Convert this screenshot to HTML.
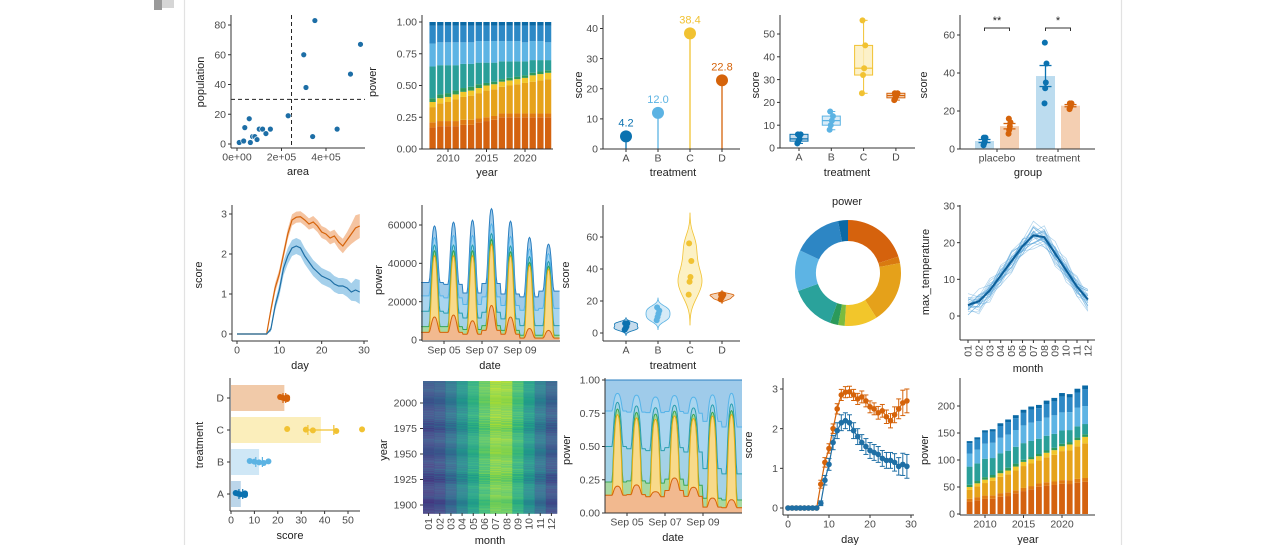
<!DOCTYPE html>
<html><head><meta charset="utf-8">
<style>
html,body{margin:0;padding:0;background:#fff;}
svg{display:block;font-family:"Liberation Sans",sans-serif;}
</style></head>
<body>
<svg id="chart" width="1280" height="545" viewBox="0 0 1280 545" xmlns="http://www.w3.org/2000/svg">
<rect x="154" y="0" width="8" height="10" fill="#9a9a9a"/>
<rect x="162" y="0" width="12" height="8" fill="#d6d6d6"/>
<rect x="184.5" y="-30" width="937" height="600" rx="14" fill="#fff" stroke="#e2e2e2" stroke-width="1.2"/>
</svg>
<script>
// ---------- data ----------
const scatterArea=[0.1,0.3,0.35,0.55,0.6,0.7,0.8,0.9,1.0,1.15,1.3,1.5,2.3,3.0,3.1,3.5,3.4,4.5,5.1,5.55];
const scatterPop=[1,2,11,17,1,5,5,3,10,10,7,10,19,60,38,83,5,10,47,67];
const years=[2008,2009,2010,2011,2012,2013,2014,2015,2016,2017,2018,2019,2020,2021,2022,2023];
const shareDarkOrange=[0.17,0.18,0.18,0.18,0.19,0.19,0.21,0.22,0.23,0.25,0.25,0.25,0.25,0.25,0.25,0.25];
const shareOrange=[0.04,0.04,0.04,0.04,0.04,0.04,0.03,0.03,0.03,0.03,0.03,0.03,0.03,0.03,0.03,0.03];
const shareGold=[0.12,0.14,0.15,0.17,0.18,0.19,0.20,0.21,0.21,0.21,0.22,0.23,0.24,0.25,0.26,0.27];
const shareYellow=[0.04,0.04,0.04,0.04,0.04,0.04,0.04,0.04,0.04,0.04,0.04,0.04,0.04,0.05,0.05,0.05];
const shareGreen=[0.03,0.03,0.03,0.03,0.03,0.03,0.03,0.02,0.02,0.02,0.02,0.02,0.02,0.02,0.02,0.02];
const shareTeal=[0.25,0.23,0.22,0.20,0.19,0.18,0.17,0.16,0.15,0.14,0.13,0.12,0.11,0.10,0.09,0.08];
const shareLightBlue=[0.18,0.18,0.18,0.18,0.17,0.17,0.17,0.17,0.17,0.16,0.16,0.16,0.15,0.15,0.15,0.14];
const shareBlue=[0.14,0.13,0.13,0.13,0.13,0.13,0.12,0.12,0.12,0.12,0.12,0.12,0.13,0.12,0.12,0.13];
const shareDarkBlue=[0.03,0.03,0.03,0.03,0.03,0.03,0.03,0.03,0.03,0.03,0.03,0.03,0.03,0.03,0.03,0.03];
const yearTotals=[135,142,155,157,168,175,183,193,199,202,210,215,224,222,232,238];
const treatments=['A','B','C','D'];
const scoresA=[2,3,4,6,6];
const scoresB=[8,10,12,14,16];
const scoresC=[24,32,35,45,56];
const scoresD=[21,22,23,24,24];
const groups=['placebo','treatment'];
const days=[0,1,2,3,4,5,6,7,8,9,10,11,12,13,14,15,16,17,18,19,20,21,22,23,24,25,26,27,28,29];
const scoreOrange=[0,0,0,0,0,0,0,0,0.6,1.15,1.5,2.0,2.5,2.85,2.92,2.93,2.85,2.75,2.8,2.7,2.55,2.5,2.4,2.45,2.3,2.2,2.35,2.5,2.65,2.7];
const seOrange=[0,0,0,0,0,0,0,0.02,0.1,0.12,0.12,0.12,0.13,0.14,0.14,0.14,0.14,0.14,0.15,0.15,0.15,0.15,0.16,0.16,0.17,0.18,0.2,0.25,0.32,0.3];
const scoreBlue=[0,0,0,0,0,0,0,0,0.12,0.7,1.1,1.65,1.95,2.15,2.2,2.15,1.95,1.8,1.65,1.55,1.45,1.4,1.35,1.25,1.2,1.2,1.15,1.05,1.1,1.05];
const seBlue=[0,0,0,0,0,0,0,0.02,0.06,0.12,0.15,0.18,0.2,0.2,0.2,0.2,0.2,0.2,0.2,0.2,0.2,0.2,0.2,0.2,0.2,0.2,0.22,0.22,0.28,0.3];
const solarProfile=[0,0,0,0,0,0,0.08,0.28,0.52,0.74,0.9,0.98,1,0.98,0.9,0.74,0.52,0.28,0.08,0,0,0,0,0];
const baseNight=[4000,4000,3000,5000,3000,1000,1000];
const baseDay=[12000,13000,10000,18000,12000,6000,5000];
const solarNight=[0,0,0,0,0,0,0];
const solarDay=[32000,31000,34000,32000,32000,33000,32000];
const greenNight=[3000,3000,2500,2500,2000,1500,1500];
const greenDay=[2500,2500,2500,2500,2000,1500,1500];
const tealNight=[8000,7000,6000,7000,6000,5000,5000];
const tealDay=[3000,3000,3000,3000,3000,3000,2500];
const lightBlueNight=[8000,8000,7000,8000,7000,8000,9000];
const lightBlueDay=[4000,5000,5000,5000,5000,4000,4000];
const blueNight=[7000,7000,6000,7000,6000,7000,9000];
const blueDay=[6000,7000,8000,8000,8000,6000,5000];
const donutValues=[20,2,19,10,2,2.5,14,12.5,15,3];
const monthLabels=['01','02','03','04','05','06','07','08','09','10','11','12'];
const monthMeans=[3,4,7,11,15,19,22,21.5,17,12.5,8,4.5];
const yearOffsets=[-0.8,-0.5,-0.9,-0.3,-0.6,-0.2,-0.7,-0.4,0.1,-0.3,0.0,-0.2,0.2,-0.1,0.3,0.0,-0.3,0.1,0.2,0.4,0.1,0.3,0.5,0.4,0.7,0.6,0.9];
const yearJitter=[0.6,-0.9,0.3,-0.4,1.0,-0.2,-0.6];

// ---------- helpers ----------
const NS='http://www.w3.org/2000/svg';
const svg=document.getElementById('chart');
function mk(parent,tag,attrs,name,inter){
  const el=document.createElementNS(NS,tag);
  for(const k in attrs) el.setAttribute(k,attrs[k]);
  
  
  parent.appendChild(el);return el;
}
function txt(parent,x,y,s,name,o){
  o=o||{};
  const a={x:x,y:y,'font-size':o.size||10.5,fill:o.fill||'#4a4a4a','text-anchor':o.anchor||'middle'};
  if(o.rot) a.transform='rotate('+o.rot+' '+x+' '+y+')';
  const t=mk(parent,'text',a,name);t.textContent=s;return t;
}
function lin(d0,d1,r0,r1){return v=>r0+(v-d0)/(d1-d0)*(r1-r0);}
function axisY(g,x,yTop,yBot,ticks,ys,fmt,pref){
  mk(g,'line',{x1:x,x2:x,y1:yTop,y2:yBot,stroke:'#333','stroke-width':1},pref+'-y-axis-line');
  ticks.forEach(t=>{const y=ys(t);
    mk(g,'line',{x1:x-3,x2:x,y1:y,y2:y,stroke:'#333','stroke-width':1},pref+'-y-tick');
    txt(g,x-5,y+3.7,fmt(t),pref+'-y-tick-label',{anchor:'end'});});
}
function axisX(g,y,xL,xR,ticks,xs,fmt,pref){
  mk(g,'line',{x1:xL,x2:xR,y1:y,y2:y,stroke:'#333','stroke-width':1},pref+'-x-axis-line');
  ticks.forEach(t=>{const x=xs(t);
    mk(g,'line',{x1:x,x2:x,y1:y,y2:y+3,stroke:'#333','stroke-width':1},pref+'-x-tick');
    txt(g,x,y+12.5,fmt(t),pref+'-x-tick-label');});
}
function title(g,x,y,s,name,rot){return txt(g,x,y,s,name,{size:11,fill:'#222',rot:rot});}
function panel(name){return mk(svg,'g',{},name);}
const C4=['#0b72b0','#5cb3e3','#f1c232','#d5630a'];
const C4L=['#bcd6ea','#cfe7f6','#fbeebb','#f1caa9'];
const groupData=[scoresA,scoresB,scoresC,scoresD];
const mean=a=>a.reduce((s,v)=>s+v,0)/a.length;
const sd=a=>{const m=mean(a);return Math.sqrt(a.reduce((s,v)=>s+(v-m)*(v-m),0)/(a.length-1));};
const se=a=>sd(a)/Math.sqrt(a.length);
function q(a,p){const s=[...a].sort((x,y)=>x-y);const h=(s.length-1)*p;const lo=Math.floor(h);return s[lo]+(h-lo)*((s[Math.min(lo+1,s.length-1)])-s[lo]);}
const jit=i=>((i*37)%7-3)*1.1;

// ---------- P1 scatter ----------
(function(){
const g=panel('scatter-panel');
const xs=lin(0,2,237,281.5), ys=lin(0,80,144,25);
mk(g,'line',{x1:xs(2.45),x2:xs(2.45),y1:15,y2:148,stroke:'#222','stroke-dasharray':'4,3'},'vline-dashed');
mk(g,'line',{x1:231,x2:365,y1:ys(30),y2:ys(30),stroke:'#222','stroke-dasharray':'4,3'},'hline-dashed');
axisY(g,231,15,148,[0,20,40,60,80],ys,String,'scatter');
axisX(g,148,231,365,[0,2,4],xs,t=>t+'e+0'+(t?'5':'0'),'scatter');
scatterArea.forEach((a,i)=>{mk(g,'circle',{cx:xs(a),cy:ys(scatterPop[i]),r:2.9,fill:'#1d6ea6',stroke:'#fff','stroke-width':0.6},'scatter-point');});
title(g,204,82,'population','y-axis-title',-90);
title(g,298,175,'area','x-axis-title');
})();

// ---------- stacked bars helper ----------
const shareSeries=[shareDarkOrange,shareOrange,shareGold,shareYellow,shareGreen,shareTeal,shareLightBlue,shareBlue,shareDarkBlue];
const stackColors=['#d4620f','#df7a12','#e6a21a','#f2c62b','#2f9a5a','#2a9f99','#5db4e4','#2d89c6','#0a69a5'];
function stackedBars(g,xs,ys,bw,totals,name){
  years.forEach((yr,i)=>{
    const sum=shareSeries.reduce((s,a)=>s+a[i],0);let acc=0;
    shareSeries.forEach((a,k)=>{
      const v0=acc/sum*totals[i];acc+=a[i];const v1=acc/sum*totals[i];
      mk(g,'rect',{x:xs(yr)-bw/2,y:ys(v1),width:bw,height:Math.max(0,ys(v0)-ys(v1)),fill:stackColors[k]},name+'-segment');
    });
  });
}
// ---------- P2 stacked pct ----------
(function(){
const g=panel('stacked-percent-panel');
const xs=lin(2010,2020,448,525), ys=lin(0,1,149,22);
stackedBars(g,xs,ys,6.3,years.map(()=>1),'pct-bar');
axisY(g,422,15,149,[0,0.25,0.5,0.75,1],ys,t=>t.toFixed(2),'pct');
axisX(g,149,422,553,[2010,2015,2020],xs,String,'pct');
title(g,376,82,'power','y-axis-title',-90);
title(g,487,176,'year','x-axis-title');
})();

// ---------- P3 lollipop ----------
(function(){
const g=panel('lollipop-panel');
const xs=i=>626+i*32, ys=lin(0,40,149,28.5);
groupData.forEach((d,i)=>{const m=mean(d);
  mk(g,'line',{x1:xs(i),x2:xs(i),y1:ys(0),y2:ys(m),stroke:C4[i],'stroke-width':1.3},'lollipop-stem');
  mk(g,'circle',{cx:xs(i),cy:ys(m),r:6,fill:C4[i]},'lollipop-dot');
  txt(g,xs(i),ys(m)-10,m.toFixed(1),'lollipop-value-label',{fill:C4[i],size:11});
});
axisY(g,603,15,149,[0,10,20,30,40],ys,String,'lollipop');
axisX(g,149,603,740,[0,1,2,3],xs,i=>treatments[i],'lollipop');
title(g,582,85,'score','y-axis-title',-90);
title(g,673,176,'treatment','x-axis-title');
})();

// ---------- P4 box ----------
(function(){
const g=panel('boxplot-panel');
const xs=i=>799+i*32.3, ys=lin(0,50,148,34);
groupData.forEach((d,i)=>{
  const q1=q(d,.25),q2=q(d,.5),q3=q(d,.75),x=xs(i);
  mk(g,'line',{x1:x,x2:x,y1:ys(Math.min(...d)),y2:ys(Math.max(...d)),stroke:C4[i]},'box-whisker');
  mk(g,'line',{x1:x-4,x2:x+4,y1:ys(Math.min(...d)),y2:ys(Math.min(...d)),stroke:C4[i]},'box-cap');
  mk(g,'line',{x1:x-4,x2:x+4,y1:ys(Math.max(...d)),y2:ys(Math.max(...d)),stroke:C4[i]},'box-cap');
  mk(g,'rect',{x:x-9,y:ys(q3),width:18,height:ys(q1)-ys(q3),fill:C4L[i],stroke:C4[i],'fill-opacity':0.8},'box-body');
  mk(g,'line',{x1:x-9,x2:x+9,y1:ys(q2),y2:ys(q2),stroke:C4[i],'stroke-width':1.2},'box-median');
  d.forEach((v,j)=>mk(g,'circle',{cx:x+jit(j)*0.5,cy:ys(v),r:3,fill:C4[i]},'box-point'));
});
axisY(g,780,15,148,[0,10,20,30,40,50],ys,String,'box');
axisX(g,148,780,915,[0,1,2,3],xs,i=>treatments[i],'box');
title(g,759,85,'score','y-axis-title',-90);
title(g,847,176,'treatment','x-axis-title');
})();

// ---------- P5 grouped bars ----------
(function(){
const g=panel('grouped-bar-panel');
const gx=[997,1058], ys=lin(0,60,149,35);
const sets=[[scoresA,scoresB],[scoresC,scoresD]];
const fills=['#bcdcef','#f4cfb2'],cols=['#0b72b0','#d5630a'];
sets.forEach((pair,gi)=>pair.forEach((d,k)=>{
  const cx=gx[gi]+(k?12.5:-12.5),m=mean(d),e=se(d);
  mk(g,'rect',{x:cx-9.5,y:ys(m),width:19,height:ys(0)-ys(m),fill:fills[k]},'group-bar');
  d.forEach((v,j)=>mk(g,'circle',{cx:cx+jit(j)*0.3,cy:ys(v),r:3,fill:cols[k]},'group-point'));
  mk(g,'line',{x1:cx,x2:cx,y1:ys(m-e),y2:ys(m+e),stroke:cols[k],'stroke-width':1.3},'group-errorbar');
  mk(g,'line',{x1:cx-6,x2:cx+6,y1:ys(m-e),y2:ys(m-e),stroke:cols[k],'stroke-width':1.3},'group-errorbar-cap');
  mk(g,'line',{x1:cx-6,x2:cx+6,y1:ys(m+e),y2:ys(m+e),stroke:cols[k],'stroke-width':1.3},'group-errorbar-cap');
}));
['**','*'].forEach((s,gi)=>{const a=gx[gi]-12.5,b=gx[gi]+12.5;
  mk(g,'path',{d:`M${a},31V28H${b}V31`,fill:'none',stroke:'#333'},'significance-bracket');
  txt(g,gx[gi],24,s,'significance-stars',{fill:'#222',size:11});});
axisY(g,960,15,149,[0,20,40,60],ys,String,'group');
axisX(g,149,960,1095,[0,1],i=>gx[i],i=>groups[i],'group');
title(g,927,85,'score','y-axis-title',-90);
title(g,1028,176,'group','x-axis-title');
})();

// ---------- P6 ribbon line ----------
(function(){
const g=panel('ribbon-line-panel');
const xs=lin(0,30,237,364), ys=lin(0,3,334,214);
[[scoreOrange,seOrange,'#f3b58a','#d5630a','orange'],[scoreBlue,seBlue,'#8ec4e6','#1f6fa5','blue']].forEach(([v,e,f,c,n])=>{
  const up=days.map((d,i)=>xs(d)+','+ys(v[i]+e[i])).join(' ');
  const lo=days.map((d,i)=>xs(d)+','+ys(Math.max(0,v[i]-e[i]))).reverse().join(' ');
  mk(g,'polygon',{points:up+' '+lo,fill:f,'fill-opacity':0.8},'ribbon-'+n);
  mk(g,'polyline',{points:days.map((d,i)=>xs(d)+','+ys(v[i])).join(' '),fill:'none',stroke:c,'stroke-width':1.2},'line-'+n);
});
axisY(g,232,205,341,[0,1,2,3],ys,String,'ribbon');
axisX(g,341,232,368,[0,10,20,30],xs,String,'ribbon');
title(g,202,275,'score','y-axis-title',-90);
title(g,300,369,'day','x-axis-title');
})();

// ---------- energy layers ----------
const layerNight=[baseNight,solarNight,greenNight,tealNight,lightBlueNight,blueNight];
const layerDay=[baseDay,solarDay,greenDay,tealDay,lightBlueDay,blueDay];
const layerFill=['#f2b98f','#f8da8a','#a8d8a2','#a4d2e6','#a9d5ef','#9fcbea'];
const layerStroke=['#d5630a','#e5ad17','#3aa657','#2a9fb0','#56b4e9','#2b7fc0'];
function energyStack(){
  const pts=[];
  for(let h=-29;h<=146;h++){const t=h/24;const di=Math.min(6,Math.max(0,Math.floor(t)+1));const hr=((h%24)+24)%24;
    const vals=layerNight.map((n,k)=>n[di]+(layerDay[k][di]-n[di])*solarProfile[hr]);pts.push({t:t,vals:vals});}
  return pts;
}
function drawEnergy(g,xs,ys,norm,pref){
  const pts=energyStack();
  const cum=pts.map(p=>{const s=norm?p.vals.reduce((a,b)=>a+b,0):1;let acc=0;return [0].concat(p.vals.map(v=>(acc+=v)/s));});
  for(let k=5;k>=0;k--){
    const up=pts.map((p,i)=>xs(p.t)+','+ys(cum[i][k+1]));
    const lo=pts.map((p,i)=>xs(p.t)+','+ys(cum[i][k])).reverse();
    mk(g,'polygon',{points:up.concat(lo).join(' '),fill:layerFill[k]},pref+'-area-layer');
    mk(g,'polyline',{points:up.join(' '),fill:'none',stroke:layerStroke[k],'stroke-width':1},pref+'-layer-line');
  }
}
// ---------- P7 area ----------
(function(){
const g=panel('stacked-area-panel');
const xs=t=>444+t*19, ys=lin(0,60000,340,225);
drawEnergy(g,xs,ys,false,'power');
axisY(g,422,205,341,[0,20000,40000,60000],ys,String,'area');
axisX(g,341,422,560,[0,2,4],xs,t=>'Sep 0'+(5+t),'area');
title(g,382,280,'power','y-axis-title',-90);
title(g,490,369,'date','x-axis-title');
})();

// ---------- P8 violin ----------
(function(){
const g=panel('violin-panel');
const xs=i=>626+i*32, ys=lin(0,60,333,237);
groupData.forEach((d,i)=>{
  const s=sd(d),iqr=q(d,.75)-q(d,.25);const bw=0.9*Math.min(s,iqr/1.34||s)*Math.pow(d.length,-0.2);
  const lo=Math.min(...d)-3*bw,hi=Math.max(...d)+3*bw;const N=60;const dens=[];
  for(let k=0;k<=N;k++){const y=lo+(hi-lo)*k/N;dens.push([y,d.reduce((a,v)=>a+Math.exp(-0.5*((y-v)/bw)**2),0)]);}
  const mx=Math.max(...dens.map(p=>p[1]));
  const L=dens.map(p=>(xs(i)-p[1]/mx*12)+','+ys(p[0])),R=dens.map(p=>(xs(i)+p[1]/mx*12)+','+ys(p[0])).reverse();
  mk(g,'polygon',{points:L.concat(R).join(' '),fill:C4L[i],stroke:C4[i],'stroke-width':0.8,'fill-opacity':0.85},'violin-body');
  d.forEach((v,j)=>mk(g,'circle',{cx:xs(i)+jit(j)*0.4,cy:ys(v),r:3,fill:C4[i]},'violin-point'));
});
axisY(g,603,205,341,[0,20,40,60],ys,String,'violin');
axisX(g,341,603,740,[0,1,2,3],xs,i=>treatments[i],'violin');
title(g,569,275,'score','y-axis-title',-90);
title(g,673,369,'treatment','x-axis-title');
})();

// ---------- P9 donut ----------
(function(){
const g=panel('donut-panel');
const cx=848,cy=273,R=53,r=32;const tot=donutValues.reduce((a,b)=>a+b,0);
const cols=['#d5620d','#d97a10','#e5a11a','#f2c62b','#7cbb3f','#2b9a5a','#2aa29b','#5db4e4','#2d86c4','#0a69a5'];
let a0=0;
donutValues.forEach((v,i)=>{const a1=a0+v/tot*2*Math.PI;const p=(a,rr)=>[cx+rr*Math.sin(a),cy-rr*Math.cos(a)];
  const [x0,y0]=p(a0,R),[x1,y1]=p(a1,R),[x2,y2]=p(a1,r),[x3,y3]=p(a0,r);const lg=(a1-a0)>Math.PI?1:0;
  mk(g,'path',{d:`M${x0},${y0}A${R},${R} 0 ${lg} 1 ${x1},${y1}L${x2},${y2}A${r},${r} 0 ${lg} 0 ${x3},${y3}Z`,fill:cols[i]},'donut-slice');a0=a1;});
title(g,847,205,'power','donut-title');
})();

// ---------- P10 max temp ----------
(function(){
const g=panel('max-temperature-panel');
const xs=m=>968+m*10.9, ys=lin(0,30,316,206);
yearOffsets.forEach((o,k)=>{
  mk(g,'polyline',{points:monthMeans.map((v,m)=>xs(m)+','+ys(v+o*2.5+yearJitter[(k+m)%7]*1.6)).join(' '),fill:'none',stroke:'#4f9fd6','stroke-width':0.7,'stroke-opacity':0.45},'year-line');
});
mk(g,'polyline',{points:monthMeans.map((v,m)=>xs(m)+','+ys(v)).join(' '),fill:'none',stroke:'#0d5f99','stroke-width':2},'mean-line');
axisY(g,960,205,340,[0,10,20,30],ys,String,'temp');
mk(g,'line',{x1:960,x2:1095,y1:340,y2:340,stroke:'#333'},'temp-x-axis-line');
monthLabels.forEach((l,m)=>{mk(g,'line',{x1:xs(m),x2:xs(m),y1:340,y2:343,stroke:'#333'},'temp-x-tick');
  txt(g,xs(m)+3.5,345,l,'temp-x-tick-label',{anchor:'end',rot:-90});});
title(g,929,272,'max_temperature','y-axis-title',-90);
title(g,1028,372,'month','x-axis-title');
})();

// ---------- P11 hbar ----------
(function(){
const g=panel('horizontal-bar-panel');
const xs=lin(0,50,231,348), ys=i=>494-i*32;
groupData.forEach((d,i)=>{const m=mean(d),e=se(d),y=ys(i);
  mk(g,'rect',{x:xs(0),y:y-13,width:xs(m)-xs(0),height:26,fill:C4L[i]},'hbar');
  d.forEach((v,j)=>mk(g,'circle',{cx:xs(v),cy:y+jit(j)*0.3,r:3,fill:C4[i]},'hbar-point'));
  mk(g,'line',{x1:xs(m-e),x2:xs(m+e),y1:y,y2:y,stroke:C4[i],'stroke-width':1.2},'hbar-errorbar');
  [m-e,m+e].forEach(v=>mk(g,'line',{x1:xs(v),x2:xs(v),y1:y-5,y2:y+5,stroke:C4[i],'stroke-width':1.2},'hbar-errorbar-cap'));
});
mk(g,'line',{x1:230,x2:230,y1:378,y2:511,stroke:'#333'},'hbar-y-axis-line');
treatments.forEach((t,i)=>{mk(g,'line',{x1:227,x2:230,y1:ys(i),y2:ys(i),stroke:'#333'},'hbar-y-tick');txt(g,224,ys(i)+3.7,t,'hbar-y-tick-label',{anchor:'end'});});
axisX(g,511,230,360,[0,10,20,30,40,50],xs,String,'hbar');
title(g,203,445,'treatment','y-axis-title',-90);
title(g,290,539,'score','x-axis-title');
})();

// ---------- P12 heatmap ----------
const viridis=[[68,1,84],[72,40,120],[62,74,137],[49,104,142],[38,130,142],[31,158,137],[53,183,121],[109,205,89],[180,222,44],[253,231,37]];
function vir(t){t=Math.max(0,Math.min(1,t))*9;const i=Math.min(8,Math.floor(t)),f=t-i;const a=viridis[i],b=viridis[i+1];return 'rgb('+a.map((v,k)=>Math.round(v+(b[k]-v)*f)).join(',')+')';}
(function(){
const g=panel('heatmap-panel');
const ys=lin(1900,2000,505,403);const cw=(557-423)/12;
for(let yr=1892;yr<=2021;yr++){const o=yearOffsets[Math.min(26,Math.floor((yr-1891)/5))];
  monthMeans.forEach((v,m)=>{const T=v+o*2+yearJitter[(yr+m)%7]*1.2;
    mk(g,'rect',{x:423+m*cw,y:ys(yr+0.5),width:cw+0.3,height:1.1,fill:vir(0.2+(T-2)*0.031)},'heatmap-cell');});}
[1900,1925,1950,1975,2000].forEach(t=>{mk(g,'line',{x1:420,x2:423,y1:ys(t),y2:ys(t),stroke:'#333'},'heatmap-y-tick');txt(g,417,ys(t)+3.7,String(t),'heatmap-y-tick-label',{anchor:'end'});});
monthLabels.forEach((l,m)=>{const x=423+(m+0.5)*cw;mk(g,'line',{x1:x,x2:x,y1:513,y2:516,stroke:'#333'},'heatmap-x-tick');txt(g,x+3.5,518,l,'heatmap-x-tick-label',{anchor:'end',rot:-90});});
title(g,387,450,'year','y-axis-title',-90);
title(g,490,544,'month','x-axis-title');
})();

// ---------- P13 normalized area ----------
(function(){
const g=panel('normalized-area-panel');
const xs=t=>627+t*19, ys=lin(0,1,513,380);
const clip=mk(svg,'clipPath',{id:'normclip'},'normalized-clip');
mk(clip,'rect',{x:605,y:378,width:137,height:135},'normalized-clip-rect');
const inner=mk(g,'g',{'clip-path':'url(#normclip)'},'normalized-area-layers');
drawEnergy(inner,xs,ys,true,'share');
axisY(g,605,378,513,[0,0.25,0.5,0.75,1],ys,t=>t.toFixed(2),'norm');
axisX(g,513,605,742,[0,2,4],xs,t=>'Sep 0'+(5+t),'norm');
title(g,570,450,'power','y-axis-title',-90);
title(g,673,541,'date','x-axis-title');
})();

// ---------- P14 errorbar line ----------
(function(){
const g=panel('errorbar-line-panel');
const xs=lin(0,30,788,911), ys=lin(0,3,508,389);
[[scoreOrange,seOrange,'#d5630a','orange'],[scoreBlue,seBlue,'#1f6fa5','blue']].forEach(([v,e,c,n])=>{
  mk(g,'polyline',{points:days.map((d,i)=>xs(d)+','+ys(v[i])).join(' '),fill:'none',stroke:c,'stroke-width':1.2},'errline-'+n);
  days.forEach((d,i)=>{const x=xs(d);
    if(e[i]>0.03){mk(g,'line',{x1:x,x2:x,y1:ys(v[i]-e[i]),y2:ys(v[i]+e[i]),stroke:c},'errorbar-'+n);
      mk(g,'line',{x1:x-2.5,x2:x+2.5,y1:ys(v[i]+e[i]),y2:ys(v[i]+e[i]),stroke:c},'errorbar-cap-'+n);
      mk(g,'line',{x1:x-2.5,x2:x+2.5,y1:ys(v[i]-e[i]),y2:ys(v[i]-e[i]),stroke:c},'errorbar-cap-'+n);}
    mk(g,'circle',{cx:x,cy:ys(v[i]),r:2.8,fill:c},'errpoint-'+n);});
});
axisY(g,783,378,515,[0,1,2,3],ys,String,'err');
axisX(g,515,783,914,[0,10,20,30],xs,String,'err');
title(g,752,445,'score','y-axis-title',-90);
title(g,850,543,'day','x-axis-title');
})();

// ---------- P15 stacked abs ----------
(function(){
const g=panel('stacked-absolute-panel');
const xs=lin(2010,2020,985,1062), ys=lin(0,200,514,406);
stackedBars(g,xs,ys,5.8,yearTotals,'abs-bar');
axisY(g,960,378,515,[0,50,100,150,200],ys,String,'abs');
axisX(g,515,960,1095,[2010,2015,2020],xs,String,'abs');
title(g,928,450,'power','y-axis-title',-90);
title(g,1028,543,'year','x-axis-title');
})();
</script>
</body></html>
